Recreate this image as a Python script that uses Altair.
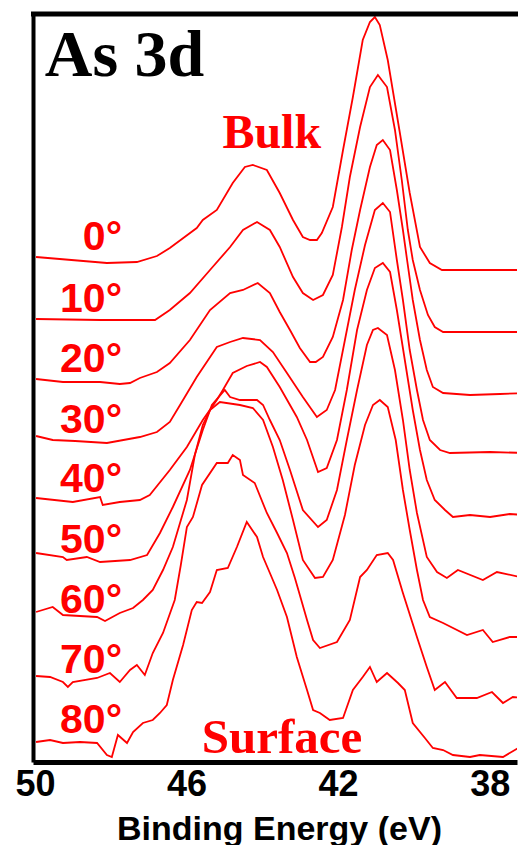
import altair as alt
import pandas as pd

# ---- data (binding energy in eV, stacked intensity in a.u.) ----
ANGLES = [0, 10, 20, 30, 40, 50, 60, 70, 80]

E_0 = [49.97, 48.10, 47.31, 46.78, 46.44, 45.73, 45.57, 45.20, 44.78, 44.46, 44.25, 43.88, 43.54, 43.19,
       42.93, 42.74, 42.56, 42.43, 42.14, 41.87, 41.61, 41.35, 41.16, 41.03, 40.90, 40.69, 40.37, 40.11,
       39.84, 39.58, 39.26, 38.26, 37.07]
I_0 = [505, 499, 500, 506, 514, 534, 542, 552, 579, 595, 597, 592, 569, 542,
       525, 522, 522, 529, 555, 612, 665, 722, 740, 745, 737, 702, 629, 569,
       515, 499, 492, 492, 492]

E_10 = [49.97, 48.28, 46.83, 46.44, 45.91, 45.38, 44.85, 44.51, 44.14, 43.80, 43.54, 43.19, 42.93, 42.66,
        42.40, 42.14, 41.90, 41.69, 41.42, 41.16, 40.95, 40.71, 40.50, 40.32, 40.16, 40.03, 39.84, 39.63,
        39.45, 39.23, 37.07]
I_10 = [443, 442, 442, 452, 469, 492, 515, 532, 540, 532, 515, 485, 469, 462,
        467, 487, 535, 585, 635, 675, 687, 675, 632, 582, 532, 502, 472, 447,
        435, 430, 430]

E_20 = [49.97, 49.26, 48.28, 47.76, 47.49, 47.23, 46.78, 46.44, 45.91, 45.38, 44.85, 44.51, 44.12, 43.80,
        43.54, 43.27, 43.01, 42.74, 42.59, 42.40, 42.14, 41.87, 41.64, 41.42, 41.16, 40.98, 40.82, 40.63,
        40.45, 40.29, 40.18, 40.03, 39.84, 39.66, 39.50, 39.23, 38.52, 37.73, 37.07]
I_20 = [383, 380, 380, 378, 379, 384, 390, 399, 422, 452, 469, 472, 479, 469,
        450, 432, 414, 400, 400, 405, 425, 462, 512, 552, 595, 617, 622, 612,
        572, 532, 502, 462, 422, 392, 375, 369, 367, 368, 369]

E_30 = [49.97, 49.53, 48.94, 48.10, 47.23, 46.78, 46.44, 46.17, 45.73, 45.20, 44.85, 44.51, 44.06, 43.72,
        43.35, 42.93, 42.56, 42.30, 42.08, 41.82, 41.56, 41.29, 41.03, 40.82, 40.63, 40.45, 40.29, 40.11,
        39.92, 39.76, 39.58, 39.31, 39.05, 37.99, 37.07]
I_30 = [326, 322, 321, 319, 325, 330, 340, 357, 385, 415, 420, 424, 422, 410,
        389, 365, 345, 352, 372, 422, 472, 517, 552, 559, 550, 502, 462, 412,
        372, 342, 322, 312, 309, 310, 309]

E_40 = [49.97, 49.00, 48.28, 48.21, 47.76, 47.23, 46.97, 46.44, 45.99, 45.57, 45.20, 45.04, 44.78, 44.41,
        44.06, 43.88, 43.54, 43.09, 42.82, 42.53, 42.30, 42.03, 41.77, 41.50, 41.24, 41.03, 40.82, 40.63,
        40.45, 40.24, 40.03, 39.84, 39.66, 39.45, 39.18, 38.97, 38.52, 37.99, 37.47, 37.07]
I_40 = [264, 260, 265, 257, 260, 262, 267, 292, 315, 342, 362, 372, 389, 396,
        400, 395, 375, 345, 322, 290, 294, 322, 372, 432, 472, 494, 499, 490,
        452, 402, 352, 312, 282, 262, 252, 245, 247, 245, 248, 247]

E_50 = [49.97, 49.26, 49.16, 48.63, 48.28, 47.49, 47.04, 46.70, 46.36, 45.91, 45.57, 45.33, 44.99, 44.85,
        44.59, 44.14, 43.98, 43.80, 43.54, 43.27, 42.93, 42.53, 42.30, 42.03, 41.77, 41.50, 41.24, 41.08,
        40.95, 40.71, 40.50, 40.29, 40.11, 39.92, 39.66, 39.39, 39.13, 38.84, 38.18, 37.81, 37.07]
I_50 = [209, 205, 202, 205, 200, 202, 207, 229, 255, 292, 332, 357, 372, 365,
        362, 362, 357, 342, 322, 292, 252, 235, 242, 272, 322, 372, 417, 432,
        434, 427, 392, 342, 292, 249, 205, 190, 184, 192, 182, 190, 184]

E_60 = [49.97, 49.53, 49.26, 48.36, 48.15, 47.76, 47.41, 47.15, 46.89, 46.62, 46.36, 45.99, 45.78, 45.57,
        45.38, 45.12, 44.59, 44.25, 43.98, 43.72, 43.46, 43.19, 42.93, 42.61, 42.40, 42.14, 41.82, 41.56,
        41.29, 41.08, 40.90, 40.69, 40.48, 40.29, 40.11, 39.92, 39.76, 39.58, 39.23, 38.60, 38.18, 37.92,
        37.47, 37.07]
I_60 = [150, 155, 147, 145, 141, 149, 154, 162, 172, 192, 215, 262, 307, 337,
        352, 360, 357, 354, 342, 315, 282, 242, 202, 184, 185, 202, 247, 297,
        337, 357, 362, 355, 322, 272, 232, 192, 162, 145, 139, 127, 132, 120,
        125, 125]

E_70 = [49.97, 49.60, 49.26, 49.13, 49.00, 48.36, 48.02, 47.76, 47.49, 47.31, 47.10, 46.89, 46.62, 46.31,
        46.15, 45.99, 45.83, 45.59, 45.20, 44.91, 44.78, 44.59, 44.51, 44.20, 43.88, 43.61, 43.35, 43.14,
        43.01, 42.82, 42.66, 42.48, 42.03, 41.69, 41.42, 41.24, 40.98, 40.69, 40.55, 40.29, 39.92, 39.66,
        39.45, 39.18, 38.87, 38.34, 37.94, 37.65, 37.39, 37.07]
I_70 = [86, 85, 80, 75, 80, 84, 89, 80, 92, 97, 87, 109, 129, 162,
        197, 235, 245, 277, 299, 299, 307, 302, 287, 279, 249, 229, 209, 184,
        167, 142, 122, 114, 120, 142, 185, 192, 207, 209, 202, 169, 125, 95,
        72, 80, 64, 64, 70, 59, 65, 64]

E_80 = [49.97, 49.60, 49.26, 48.81, 48.36, 48.10, 47.97, 47.81, 47.57, 47.41, 47.15, 46.89, 46.70, 46.52,
        46.36, 46.09, 45.86, 45.73, 45.59, 45.38, 45.20, 44.91, 44.67, 44.41, 44.14, 43.98, 43.80, 43.61,
        43.35, 43.09, 42.82, 42.66, 42.48, 42.22, 41.87, 41.61, 41.35, 41.16, 40.98, 40.71, 40.42, 40.24,
        40.03, 39.71, 39.50, 39.23, 38.97, 38.52, 38.26, 37.65, 37.20, 37.07]
I_80 = [20, 22, 19, 20, 19, 7, 5, 27, 19, 30, 39, 42, 49, 57,
        82, 117, 152, 160, 159, 170, 192, 194, 215, 240, 225, 205, 189, 172,
        145, 105, 72, 52, 49, 42, 44, 72, 85, 95, 80, 89, 79, 72,
        39, 24, 14, 12, 7, 5, 7, 5, 15, 10]

ENERGIES = [E_0, E_10, E_20, E_30, E_40, E_50, E_60, E_70, E_80]
INTENSITIES = [I_0, I_10, I_20, I_30, I_40, I_50, I_60, I_70, I_80]

# angle labels (anchor in data units)
LABEL_TEXT = [f"{a}°" for a in ANGLES]
LABEL_ENERGY = [47.70] * len(ANGLES)
LABEL_INTENSITY = [512, 450, 390, 329, 270, 209, 149, 89, 29]

TICKS = [50, 46, 42, 38]

rows = []
for a, es, iis in zip(ANGLES, ENERGIES, INTENSITIES):
    for k, (e, i) in enumerate(zip(es, iis)):
        rows.append({"angle": f"{a}°", "energy": e, "intensity": i, "idx": k})
df = pd.DataFrame(rows)

PLOT_W = 484
x_scale = alt.Scale(domain=[37.28, 50.05], reverse=True, nice=False, zero=False)
y_scale = alt.Scale(domain=[0, 748], nice=False, zero=False)

RED = "#ff0000"

lines = alt.Chart(df).mark_line(color=RED, strokeWidth=1.8, clip=True).encode(
    x=alt.X("energy:Q", scale=x_scale,
            axis=alt.Axis(values=TICKS, format="d", ticks=False, grid=False,
                          labelFlush=False, labelOverlap=False,
                          labelFont="Liberation Sans", labelFontWeight="bold",
                          labelFontSize=36, labelColor="black", labelPadding=5,
                          domainColor="black", domainWidth=5,
                          title="Binding Energy (eV)", titleFont="Liberation Sans",
                          titleFontWeight="bold", titleFontSize=34, titleColor="black",
                          titleX=246, titleY=77, titleAlign="center",
                          titleBaseline="alphabetic")),
    y=alt.Y("intensity:Q", scale=y_scale,
            axis=alt.Axis(labels=False, ticks=False, grid=False, title=None,
                          domainColor="black", domainWidth=4)),
    detail="angle:N",
    order="idx:Q",
)

top_border = alt.Chart(pd.DataFrame({"k": [0]})).mark_rule(
    color="black", strokeWidth=5).encode(
    x=alt.value(-2), x2=alt.value(PLOT_W + 2), y=alt.value(0))

lab_df = pd.DataFrame({"text": LABEL_TEXT, "energy": LABEL_ENERGY,
                       "intensity": LABEL_INTENSITY})
angle_labels = alt.Chart(lab_df).mark_text(
    align="right", baseline="alphabetic", font="Liberation Sans",
    fontWeight="bold", fontSize=41, color=RED).encode(
    x=alt.X("energy:Q", scale=x_scale),
    y=alt.Y("intensity:Q", scale=y_scale),
    text="text:N")

ann_df = pd.DataFrame({
    "text": ["As 3d", "Bulk", "Surface"],
    "energy": [49.74, 43.75, 43.48],
    "intensity": [686, 614, 9],
    "kind": ["title", "bulk", "surface"],
})

as3d = alt.Chart(ann_df[ann_df.kind == "title"]).mark_text(
    align="left", baseline="alphabetic", font="Liberation Serif",
    fontWeight="bold", fontSize=66, color="black").encode(
    x=alt.X("energy:Q", scale=x_scale),
    y=alt.Y("intensity:Q", scale=y_scale),
    text="text:N")

bulk = alt.Chart(ann_df[ann_df.kind == "bulk"]).mark_text(
    align="center", baseline="alphabetic", font="Liberation Serif",
    fontWeight="bold", fontSize=48, color=RED).encode(
    x=alt.X("energy:Q", scale=x_scale),
    y=alt.Y("intensity:Q", scale=y_scale),
    text="text:N")

surface = alt.Chart(ann_df[ann_df.kind == "surface"]).mark_text(
    align="center", baseline="alphabetic", font="Liberation Serif",
    fontWeight="bold", fontSize=49, color=RED).encode(
    x=alt.X("energy:Q", scale=x_scale),
    y=alt.Y("intensity:Q", scale=y_scale),
    text="text:N")

chart = alt.layer(lines, top_border, angle_labels, as3d, bulk, surface).properties(
    width=PLOT_W, height=748,
    autosize=alt.AutoSizeParams(type="none"),
    padding={"left": 25, "top": 6, "right": 1, "bottom": 83},
    background="white",
).configure_view(stroke=None)

chart.save("out.html", embed_options={"renderer": "svg", "actions": False})
